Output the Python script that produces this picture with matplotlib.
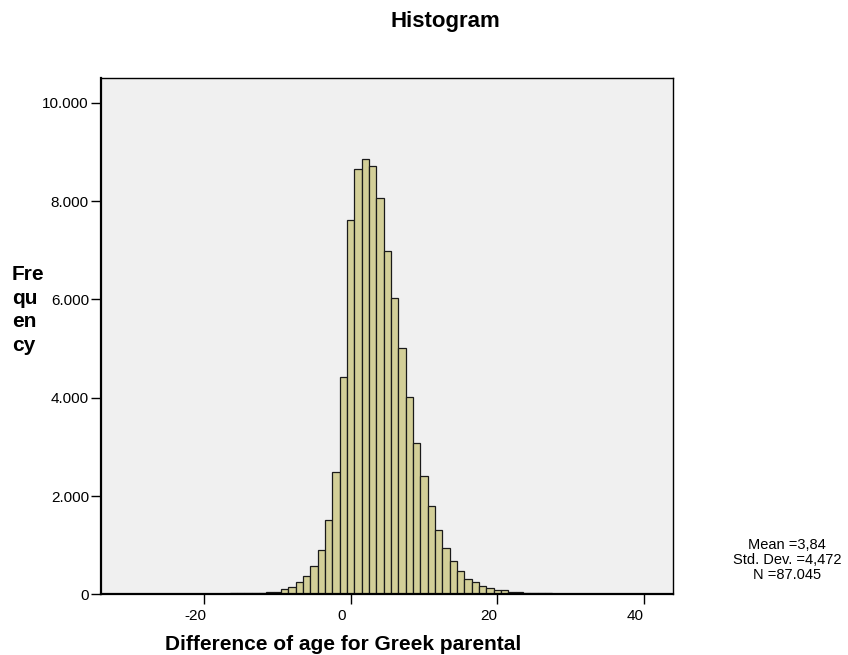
import matplotlib
matplotlib.use("Agg")
import matplotlib.pyplot as plt
import matplotlib.transforms as mtransforms
from matplotlib.ticker import FuncFormatter

plt.rcParams['font.family'] = ['Liberation Sans', 'DejaVu Sans']
plt.rcParams['axes.unicode_minus'] = False

# age difference (years) and number of cases in each bin
age_diff = list(range(-16, 28))
counts = [20, 20, 20, 20, 20, 45, 55, 110, 140, 256,
          378, 582, 908, 1512, 2495, 4428, 7617, 8655, 8864, 8716,
          8065, 6986, 6036, 5018, 4015, 3085, 2401, 1803, 1302, 948,
          678, 468, 311, 256, 175, 134, 88, 80, 55, 50,
          25, 25, 25, 25]

x_ticks = [-20, 0, 20, 40]
y_ticks = [0, 2000, 4000, 6000, 8000, 10000]
stats_lines = ["Mean =3,84", "Std. Dev. =4,472", "N =87.045"]

W, H = 848, 655
fig = plt.figure(figsize=(W / 100, H / 100), dpi=100)
ax = fig.add_axes([100.7 / W, 1 - 594.3 / H, (673.3 - 100.7) / W, (594.3 - 78.3) / H])
ax.set_facecolor('#f0f0f0')

ax.bar(age_diff, counts, width=1.0, color='#d3cf98', edgecolor='#1a1a1a', linewidth=0.9)

ax.set_xlim(-34.1, 44.0)
ax.set_ylim(0, 10500)
ax.set_xticks(x_ticks)
ax.set_yticks(y_ticks)
ax.yaxis.set_major_formatter(FuncFormatter(lambda v, p: f"{int(v):,}".replace(",", ".")))
ax.tick_params(axis='both', direction='out', length=7.5, width=1, colors='black', labelsize=11)
ax.tick_params(axis='y', pad=1)
ax.tick_params(axis='x', pad=3)

# SPSS puts the x labels a little left of their ticks
shift = mtransforms.ScaledTranslation(-9 / 100, 0, fig.dpi_scale_trans)
for lab in ax.get_xticklabels():
    lab.set_transform(lab.get_transform() + shift)

for side in ['top', 'right']:
    ax.spines[side].set_linewidth(1.0)
for side in ['left', 'bottom']:
    ax.spines[side].set_linewidth(1.6)

fig.text(445 / W, 1 - 26.7 / H, "Histogram", ha='center', va='baseline',
         fontsize=16, fontweight='bold')
fig.text(165 / W, 1 - 650 / H, "Difference of age for Greek parental", ha='left',
         va='baseline', fontsize=15, fontweight='bold')
fig.text(12 / W, 1 - 310 / H, "Fre\nqu\nen\ncy", ha='left', va='center',
         fontsize=15, fontweight='bold', linespacing=1.3)

for i, line in enumerate(stats_lines):
    fig.text(787 / W, 1 - (545 + 15 * i) / H, line, ha='center', va='center', fontsize=10.5)

fig.savefig("out.png", dpi=100)
